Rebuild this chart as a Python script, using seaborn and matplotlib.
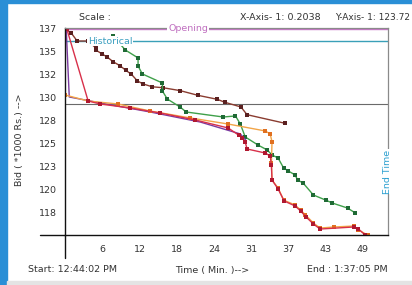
import matplotlib
matplotlib.use("Agg")
import matplotlib.pyplot as plt
import seaborn as sns
import pandas as pd
from matplotlib.patches import Rectangle

sns.set_style("white")
plt.rcParams['font.family'] = ['DejaVu Sans']

# ---- data (minutes since start, bid in '000 Rs.) ----
brown_x = [0.0, 1.0, 2.0, 3.8, 5.1, 5.1, 6.1, 6.9, 7.9, 9.0, 10.0, 10.9, 11.9, 12.8, 14.3, 16.1, 18.9, 21.9, 25.0, 26.2, 28.9, 29.9, 36.2]
brown_y = [137.0, 136.6, 135.75, 135.75, 135.0, 134.8, 134.4, 134.1, 133.6, 133.2, 132.7, 132.3, 131.6, 131.3, 131.0, 130.9, 130.6, 130.1, 129.7, 129.4, 128.9, 128.1, 127.2]

green_x = [7.9, 9.9, 12.0, 12.0, 12.7, 16.0, 16.0, 16.8, 18.9, 19.9, 26.0, 28.0, 28.8, 29.6, 31.7, 33.2, 34.0, 35.0, 35.9, 36.7, 37.8, 38.2, 39.1, 40.8, 42.8, 43.9, 46.4, 47.7]
green_y = [136.27, 134.82, 133.99, 133.16, 132.33, 131.39, 130.56, 129.73, 128.90, 128.38, 127.86, 127.97, 127.13, 125.79, 124.95, 124.44, 123.92, 123.60, 122.57, 122.25, 121.84, 121.32, 121.01, 119.76, 119.24, 118.93, 118.41, 117.89]

orange_x = [0.0, 3.8, 8.7, 14.0, 20.6, 26.8, 32.9, 33.7, 34.0, 33.9, 34.0, 35.0, 35.9, 37.8, 38.7, 39.5, 40.8, 41.9, 44.1, 47.4, 48.2, 49.7]
orange_y = [130.15, 129.52, 129.21, 128.48, 127.76, 127.13, 126.41, 126.10, 125.27, 123.09, 121.32, 120.49, 119.24, 118.72, 118.20, 117.69, 116.85, 116.33, 116.44, 116.54, 116.13, 115.61]

red_x = [0.3, 3.8, 5.8, 10.7, 15.6, 21.4, 26.8, 28.5, 29.1, 29.6, 29.9, 32.9, 33.7, 33.9, 34.0, 35.0, 36.0, 37.8, 38.7, 39.6, 40.8, 41.9, 47.4, 48.2, 49.3]
red_y = [137.0, 129.52, 129.21, 128.80, 128.28, 127.55, 126.72, 125.99, 125.68, 125.27, 124.54, 124.12, 123.81, 122.88, 121.32, 120.39, 119.14, 118.62, 118.10, 117.48, 116.75, 116.23, 116.44, 116.23, 115.61]

purple_x = [0.2, 0.7, 5.8, 14.0, 22.2, 28.8, 29.8]
purple_y = [137.0, 129.94, 129.32, 128.38, 127.34, 126.10, 125.37]

opening_value = 137.0
historical_value = 135.75
reserve_value = 129.25
end_time = 53.05

x_tick_step = 6.114
x_tick_labels = ["6", "12", "18", "24", "31", "37", "43", "49"]
y_tick_step = 2.38
y_tick_labels = ["137", "135", "132", "130", "128", "125", "123", "120", "118"]

W, H = 412, 285
fig = plt.figure(figsize=(W / 100, H / 100), dpi=100)
fig.patch.set_facecolor("white")
# window decoration
fig.patches.append(Rectangle((0, 0), 7 / W, 1, transform=fig.transFigure, color="#2a8fd6", zorder=0))
fig.patches.append(Rectangle((0, 1 - 3 / H), 1, 3 / H, transform=fig.transFigure, color="#2a8fd6", zorder=0))
fig.patches.append(Rectangle((7 / W, 0), 1, 4 / H, transform=fig.transFigure, color="#e4e4e4", zorder=0))

ax = fig.add_axes([65 / W, (H - 235) / H, (388 - 65) / W, (235 - 28) / H])
ax.set_facecolor("white")

series = [
    (brown_x, brown_y, "#8a3c30", "#5a2020", True),
    (green_x, green_y, "#3fa04a", "#1f6a35", True),
    (purple_x, purple_y, "#7a3aa0", "#7a3aa0", False),
    (orange_x, orange_y, "#f2a548", "#e07020", True),
    (red_x, red_y, "#d8304a", "#b01830", True),
]
for xs, ys, col, mcol, mk in series:
    df = pd.DataFrame({"t": xs, "bid": ys})
    sns.lineplot(data=df, x="t", y="bid", ax=ax, sort=False, color=col, lw=1.0,
                 marker="s" if mk else None, markersize=2.8, markeredgewidth=0,
                 markerfacecolor=mcol, estimator=None)

ax.axhline(opening_value, color="#c878c8", lw=1.0, zorder=1)
ax.axhline(historical_value, color="#3aa0b8", lw=1.0, zorder=1)
ax.axhline(reserve_value, color="#6a6a6a", lw=0.8, zorder=1)

ax.text(20.2, opening_value, "Opening", color="#c070c0", fontsize=6.8, ha="center", va="center",
        bbox=dict(facecolor="white", edgecolor="none", pad=0.5), zorder=5)
ax.text(7.4, historical_value, "Historical", color="#3a9fc0", fontsize=6.8, ha="center", va="center",
        bbox=dict(facecolor="white", edgecolor="none", pad=0.5), zorder=5)
ax.text(end_time, 122.2, "End Time", color="#2a9fd0", fontsize=6.8, ha="center", va="center",
        rotation=90, bbox=dict(facecolor="white", edgecolor="none", pad=0.5), zorder=5, clip_on=False)

ax.set_xlim(0, end_time)
ax.set_ylim(115.61, 137.1)
ax.set_xticks([x_tick_step * (i + 1) for i in range(len(x_tick_labels))])
ax.set_xticklabels(x_tick_labels)
ax.set_yticks([137 - y_tick_step * i for i in range(len(y_tick_labels))])
ax.set_yticklabels(y_tick_labels)
ax.tick_params(axis="both", direction="inout", length=4, width=0.6, color="#333333",
               labelsize=6.8, labelcolor="#333333", pad=4)
ax.tick_params(axis="x", pad=5)
ax.set_xlabel("")
ax.set_ylabel("")

for s in ["top", "right"]:
    ax.spines[s].set_color("#8a8a8a")
    ax.spines[s].set_linewidth(0.9)
for s in ["left", "bottom"]:
    ax.spines[s].set_color("#111111")
    ax.spines[s].set_linewidth(1.0)
# axis extensions past origin
ax.axvline(0, ymin=-0.111, ymax=0, color="#111111", lw=1.0, clip_on=False)
ax.axhline(115.61, xmin=-0.077, xmax=0, color="#111111", lw=1.0, clip_on=False)

tc = "#333333"
fs = 6.8
fig.text(95 / W, 1 - 17 / H, "Scale :", fontsize=fs, ha="center", va="center", color=tc)
fig.text(280 / W, 1 - 17 / H, "X-Axis- 1: 0.2038", fontsize=fs, ha="center", va="center", color=tc)
fig.text(410 / W, 1 - 17 / H, "Y-Axis- 1: 123.72", fontsize=6.5, ha="right", va="center", color=tc)
fig.text(28 / W, 1 - 270 / H, "Start: 12:44:02 PM", fontsize=fs, ha="left", va="center", color=tc)
fig.text(212 / W, 1 - 271 / H, "Time ( Min. )-->", fontsize=fs, ha="center", va="center", color=tc)
fig.text(388 / W, 1 - 270 / H, "End : 1:37:05 PM", fontsize=fs, ha="right", va="center", color=tc)
fig.text(20 / W, 1 - 140 / H, "Bid ( *1000 Rs.) -->", fontsize=fs, ha="center", va="center",
         rotation=90, color=tc)

fig.savefig("out.png", dpi=100)
